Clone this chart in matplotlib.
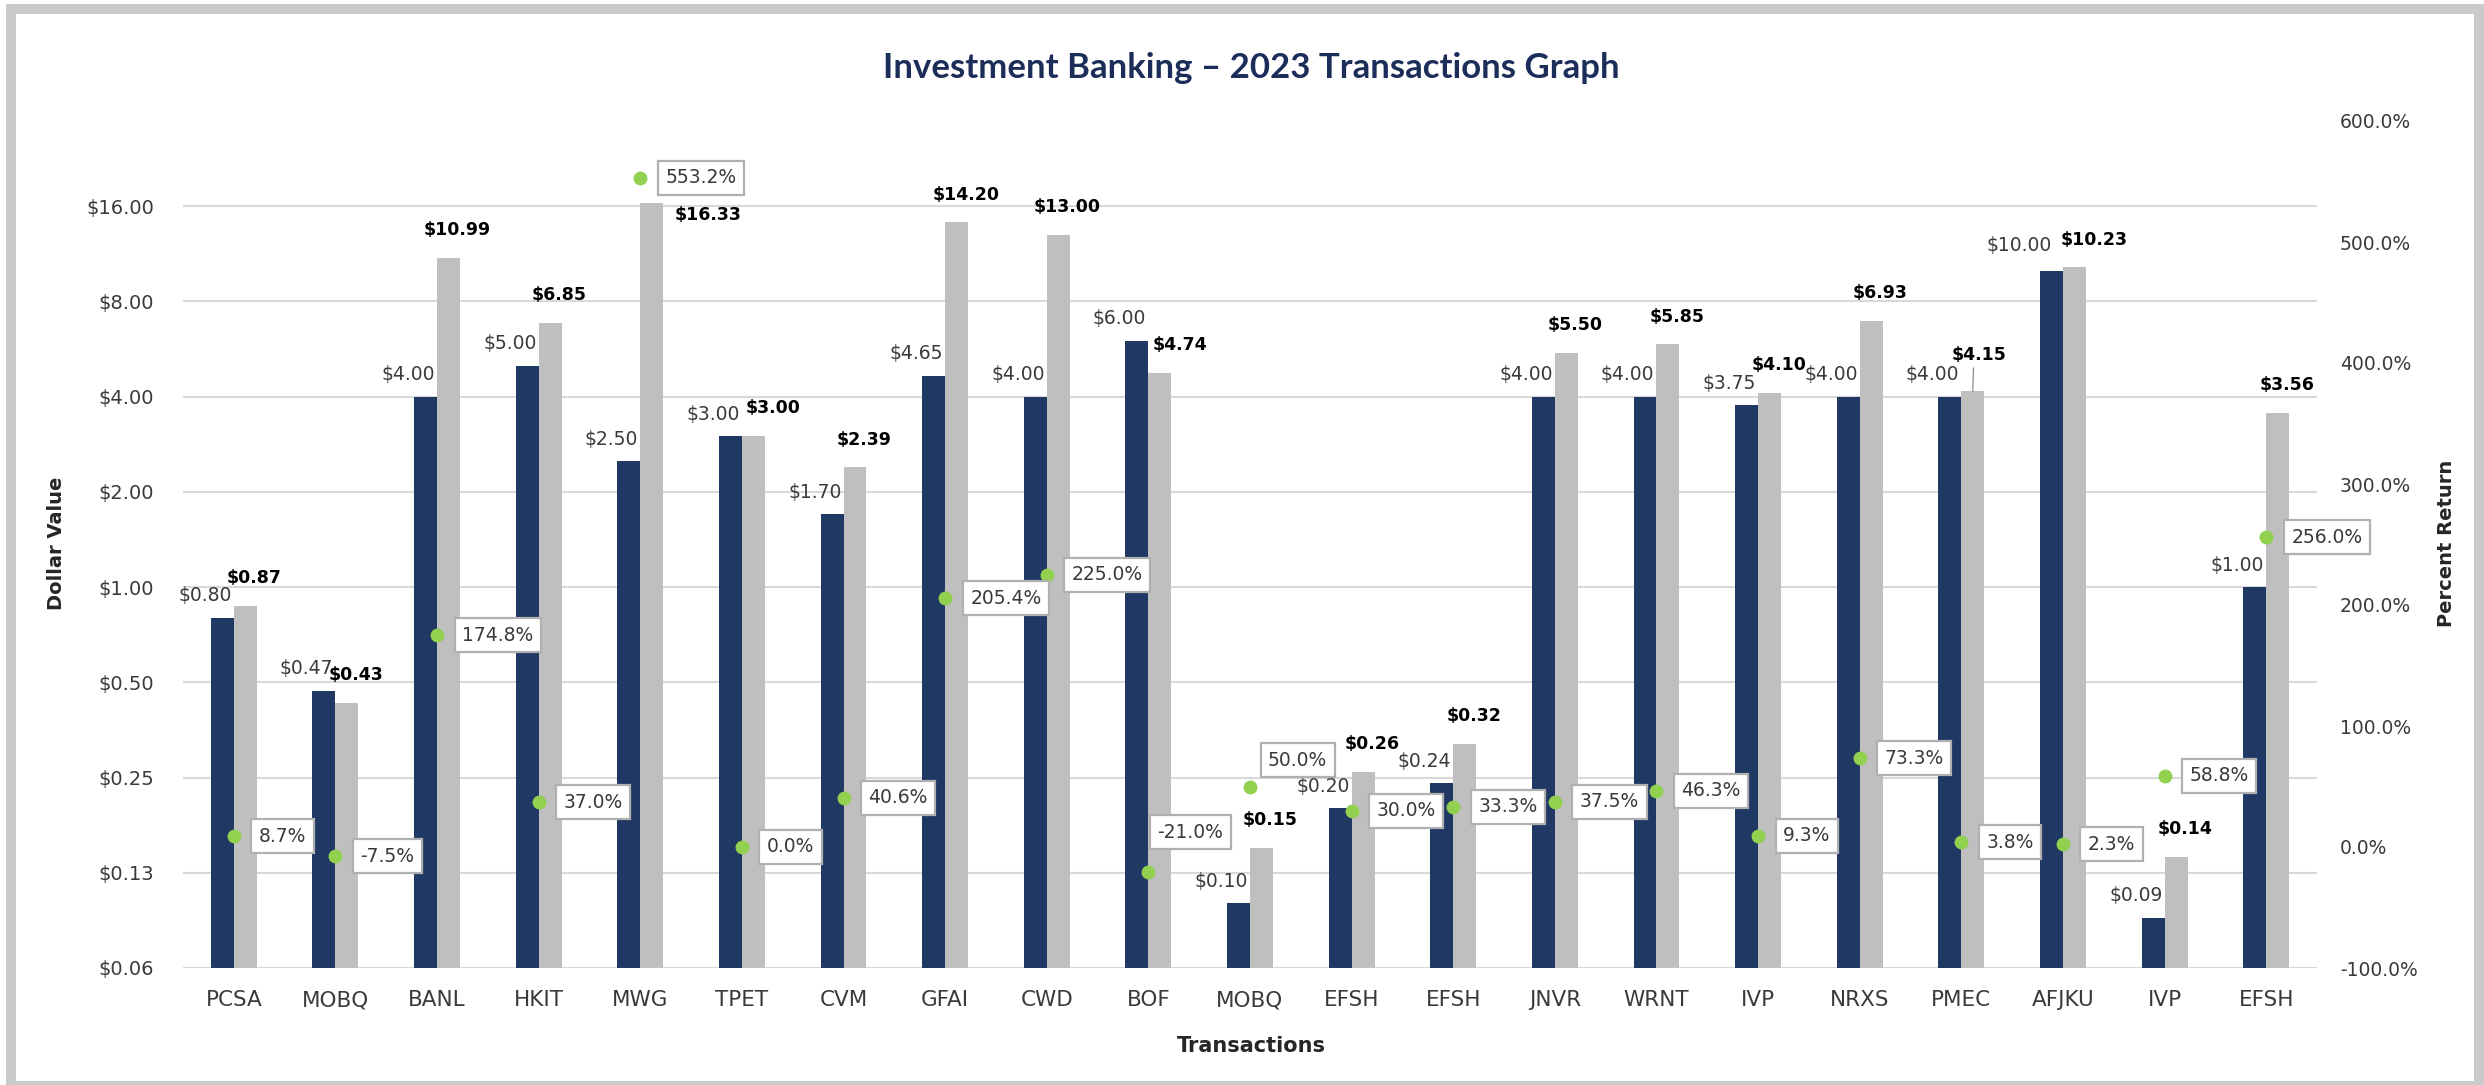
import matplotlib
matplotlib.use("Agg")
import matplotlib.pyplot as plt
from matplotlib.patches import Rectangle
import numpy as np

# data
tickers = ["PCSA", "MOBQ", "BANL", "HKIT", "MWG", "TPET", "CVM", "GFAI", "CWD", "BOF",
           "MOBQ", "EFSH", "EFSH", "JNVR", "WRNT", "IVP", "NRXS", "PMEC", "AFJKU", "IVP", "EFSH"]
offer_price = [0.80, 0.47, 4.00, 5.00, 2.50, 3.00, 1.70, 4.65, 4.00, 6.00,
               0.10, 0.20, 0.24, 4.00, 4.00, 3.75, 4.00, 4.00, 10.00, 0.09, 1.00]
current_price = [0.87, 0.43, 10.99, 6.85, 16.33, 3.00, 2.39, 14.20, 13.00, 4.74,
                 0.15, 0.26, 0.32, 5.50, 5.85, 4.10, 6.93, 4.15, 10.23, 0.14, 3.56]
pct_return = [8.7, -7.5, 174.8, 37.0, 553.2, 0.0, 40.6, 205.4, 225.0, -21.0,
              50.0, 30.0, 33.3, 37.5, 46.3, 9.3, 73.3, 3.8, 2.3, 58.8, 256.0]

dollar_ticks = [0.0625, 0.125, 0.25, 0.5, 1, 2, 4, 8, 16]
dollar_tick_labels = ["$0.06", "$0.13", "$0.25", "$0.50", "$1.00", "$2.00", "$4.00", "$8.00", "$16.00"]
pct_ticks = [-100, 0, 100, 200, 300, 400, 500, 600]

NAVY = "#203864"
GREY = "#BFBFBF"
GREEN = "#92D050"
TXT = "#3A3A3A"

W, H = 2484, 1085
fig = plt.figure(figsize=(W / 100, H / 100), dpi=100)


def fx(px):
    return px / W


def fy(py):
    return 1 - py / H


# outer grey frame
for (x0, y0, w, h) in [(6, 4, 2478, 10), (6, 4, 10, 1081), (2474, 4, 10, 1081), (6, 1081, 2478, 4)]:
    fig.patches.append(Rectangle((fx(x0), fy(y0 + h)), w / W, h / H, transform=fig.transFigure,
                                 facecolor="#CACACA", edgecolor="none", zorder=0))

left, right, top, bottom = 183, 2317, 121, 968
ax = fig.add_axes([fx(left), fy(bottom), (right - left) / W, (bottom - top) / H])

x = np.arange(len(tickers))
w = 0.226

ax.bar(x - w / 2, offer_price, width=w, color=NAVY, zorder=2)
ax.bar(x + w / 2, current_price, width=w, color=GREY, zorder=2)

ax.set_yscale("log", base=2)
ax.set_ylim(0.0625, 29.7)
ax.set_xlim(-0.5, len(tickers) - 0.5)
ax.set_yticks(dollar_ticks)
ax.set_yticklabels(dollar_tick_labels)
ax.yaxis.set_minor_locator(matplotlib.ticker.NullLocator())
ax.set_xticks(x)
ax.set_xticklabels(tickers)
ax.tick_params(axis="y", length=0, pad=21, labelsize=14, labelcolor=TXT)
ax.tick_params(axis="x", length=0, pad=16, labelsize=15.5, labelcolor=TXT)
ax.grid(axis="y", color="#D9D9D9", lw=1.5)
ax.set_axisbelow(True)
for s in ax.spines.values():
    s.set_visible(False)

# value labels on the bars
gray_dx = {5: 14.5, 9: 14.5, 18: 14.5}
navy_off = {18: (-8, 11)}
for i in range(len(tickers)):
    ndx, ndy = navy_off.get(i, (-1.5, 9))
    ax.annotate(f"${offer_price[i]:.2f}", (x[i], offer_price[i]), xytext=(ndx, ndy),
                textcoords="offset points", ha="right", va="bottom", fontsize=13.5, color=TXT, zorder=4)
    if i == 4:
        ax.annotate(f"${current_price[i]:.2f}", (x[i] + w, current_price[i]), xytext=(8, -2),
                    textcoords="offset points", ha="left", va="top", fontsize=12.5,
                    fontweight="bold", color="black", zorder=4)
    elif i == 17:
        ax.annotate(f"${current_price[i]:.2f}", (x[i] + w / 2, current_price[i]), xytext=(4.5, 20),
                    textcoords="offset points", ha="center", va="bottom", fontsize=12.5,
                    fontweight="bold", color="black", zorder=4,
                    arrowprops=dict(arrowstyle="-", color="#7F7F7F", lw=0.8, shrinkA=1, shrinkB=0,
                                    relpos=(0.4, 0)))
    else:
        ax.annotate(f"${current_price[i]:.2f}", (x[i] + w / 2, current_price[i]),
                    xytext=(gray_dx.get(i, 6.5), 13.5), textcoords="offset points",
                    ha="center", va="bottom", fontsize=12.5, fontweight="bold", color="black", zorder=4)

# percent return on the secondary axis
ax2 = ax.twinx()
ax2.set_ylim(-100, 600)
ax2.set_yticks(pct_ticks)
ax2.set_yticklabels([f"{t:.1f}%" for t in pct_ticks])
ax2.tick_params(axis="y", length=0, pad=16.5, labelsize=13.5, labelcolor=TXT)
for s in ax2.spines.values():
    s.set_visible(False)
ax2.plot(x, pct_return, "o", color=GREEN, ms=9, ls="none", zorder=3)

box_off = {10: (13, 19), 9: (6.5, 29)}
for i in range(len(tickers)):
    dx, dy = box_off.get(i, (18, 0))
    ax2.annotate(f"{pct_return[i]:.1f}%", (x[i], pct_return[i]), xytext=(dx, dy),
                 textcoords="offset points", ha="left", va="center", fontsize=13.5, color=TXT,
                 bbox=dict(boxstyle="square,pad=0.4", fc="white", ec="#B0B0B0", lw=1.6), zorder=5)

fig.text(fx(1251), fy(78), "Investment Banking \u2013 2023 Transactions Graph", ha="center", va="baseline",
         fontsize=25, fontweight="bold", color="#1C2D5A", family="Lato")
fig.text(fx(57), fy(543), "Dollar Value", rotation=90, ha="center", va="center",
         fontsize=14, fontweight="bold", color="#262626")
fig.text(fx(2446), fy(543), "Percent Return", rotation=90, ha="center", va="center",
         fontsize=14, fontweight="bold", color="#262626")
fig.text(fx(1251), fy(1046), "Transactions", ha="center", va="center",
         fontsize=15, fontweight="bold", color="#262626")

fig.savefig("out.png", dpi=100, facecolor="white")
